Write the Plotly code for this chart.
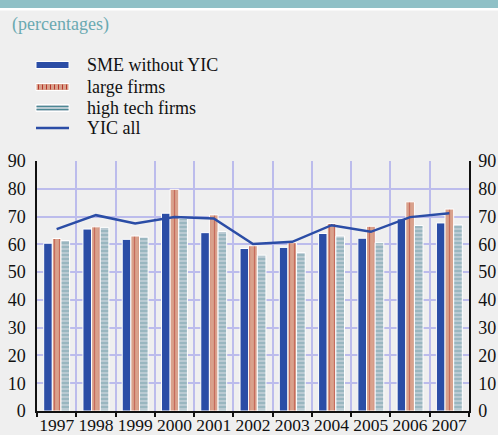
import plotly.graph_objects as go

# Data
years = ["1997", "1998", "1999", "2000", "2001", "2002", "2003", "2004", "2005", "2006", "2007"]
sme_without_yic = [60.4, 65.5, 61.8, 71.2, 64.2, 58.5, 58.9, 63.9, 62.2, 69.2, 67.7]
large_firms = [62.1, 66.3, 63.0, 79.8, 70.6, 59.5, 60.6, 67.5, 66.5, 75.3, 72.7]
high_tech_firms = [61.4, 66.1, 62.6, 69.3, 64.6, 56.1, 57.0, 63.0, 60.6, 66.8, 67.0]
yic_all = [65.5, 70.5, 67.5, 69.8, 69.3, 60.1, 60.9, 66.9, 64.5, 69.8, 71.2]
y_ticks = [0, 10, 20, 30, 40, 50, 60, 70, 80, 90]

# Colours
BLUE = "#2b4da6"
SALMON = "#d9a18c"
DARK_RED = "#b5362b"
HT_BG = "#b9cad2"
HT_LINE = "#4d8894"
GRID = "#bcbcec"
BG = "#efefef"
TEAL_BAND = "#8fc0c6"
TEAL_TEXT = "#6aa9b1"
FONT = "Liberation Serif"

# Layout geometry (pixels)
FIG_W, FIG_H = 498, 435
M_L, M_R, M_T, M_B = 37, 29, 161, 24
PW = FIG_W - M_L - M_R
PH = FIG_H - M_T - M_B


def px_x(x):
    return (x - M_L) / PW


def px_y(y):
    return (FIG_H - M_B - y) / PH


fig = go.Figure()

fig.add_trace(go.Bar(
    x=years, y=sme_without_yic, name="SME without YIC",
    marker=dict(color=BLUE, line=dict(color="white", width=1)),
    showlegend=False,
))
fig.add_trace(go.Bar(
    x=years, y=large_firms, name="large firms",
    marker=dict(color=SALMON, line=dict(color="white", width=1),
                pattern=dict(shape="|", fgcolor=DARK_RED, fillmode="overlay",
                             size=5, solidity=0.25)),
    showlegend=False,
))
fig.add_trace(go.Bar(
    x=years, y=high_tech_firms, name="high tech firms",
    marker=dict(color=HT_BG, line=dict(color="white", width=1),
                pattern=dict(shape="-", fgcolor=HT_LINE, fillmode="overlay",
                             size=4, solidity=0.3)),
    showlegend=False,
))
fig.add_trace(go.Scatter(
    x=years, y=yic_all, name="YIC all", mode="lines",
    line=dict(color=BLUE, width=2.5), yaxis="y2",
    showlegend=False,
))

shapes = []
annotations = []

# Header band
shapes.append(dict(type="rect", xref="paper", yref="paper",
                   x0=px_x(0), x1=px_x(FIG_W), y0=px_y(0), y1=px_y(8),
                   fillcolor=TEAL_BAND, line=dict(width=0), layer="below"))
shapes.append(dict(type="rect", xref="paper", yref="paper",
                   x0=px_x(0), x1=px_x(FIG_W), y0=px_y(8), y1=px_y(10.5),
                   fillcolor="white", line=dict(width=0), layer="below"))

annotations.append(dict(text="(percentages)", xref="paper", yref="paper",
                        x=px_x(10), y=px_y(24), xanchor="left", yanchor="middle",
                        showarrow=False, font=dict(family=FONT, size=18, color=TEAL_TEXT)))

# Legend
SW_X0, SW_X1 = 36, 69
TXT_X = 85
rows = [65, 87, 108, 128]
labels = ["SME without YIC", "large firms", "high tech firms", "YIC all"]

# SME swatch
shapes.append(dict(type="rect", xref="paper", yref="paper",
                   x0=px_x(SW_X0), x1=px_x(SW_X1), y0=px_y(rows[0] - 3.5), y1=px_y(rows[0] + 3.5),
                   fillcolor=BLUE, line=dict(color="white", width=1)))
# large firms swatch with vertical stripes
shapes.append(dict(type="rect", xref="paper", yref="paper",
                   x0=px_x(SW_X0), x1=px_x(SW_X1), y0=px_y(rows[1] - 3.5), y1=px_y(rows[1] + 3.5),
                   fillcolor=SALMON, line=dict(color="white", width=1)))
xs = SW_X0 + 2.5
while xs < SW_X1 - 1:
    shapes.append(dict(type="line", xref="paper", yref="paper",
                       x0=px_x(xs), x1=px_x(xs), y0=px_y(rows[1] - 2.5), y1=px_y(rows[1] + 2.5),
                       line=dict(color=DARK_RED, width=1)))
    xs += 4
# high tech swatch with horizontal stripes
shapes.append(dict(type="rect", xref="paper", yref="paper",
                   x0=px_x(SW_X0), x1=px_x(SW_X1), y0=px_y(rows[2] - 3.5), y1=px_y(rows[2] + 3.5),
                   fillcolor=HT_BG, line=dict(color="white", width=1)))
for dy in (-1.5, 1.5):
    shapes.append(dict(type="line", xref="paper", yref="paper",
                       x0=px_x(SW_X0 + 0.5), x1=px_x(SW_X1 - 0.5),
                       y0=px_y(rows[2] + dy), y1=px_y(rows[2] + dy),
                       line=dict(color=HT_LINE, width=1)))
# YIC line swatch
shapes.append(dict(type="line", xref="paper", yref="paper",
                   x0=px_x(SW_X0), x1=px_x(SW_X1), y0=px_y(rows[3]), y1=px_y(rows[3]),
                   line=dict(color=BLUE, width=2.5)))

for lab, ry in zip(labels, rows):
    annotations.append(dict(text=lab, xref="paper", yref="paper",
                            x=px_x(TXT_X), y=px_y(ry), xanchor="left", yanchor="middle",
                            showarrow=False, font=dict(family=FONT, size=18, color="#111111")))

axis_font = dict(family=FONT, size=18, color="#111111")
x_font = dict(family=FONT, size=17.5, color="#111111")

fig.update_layout(
    width=FIG_W, height=FIG_H,
    margin=dict(l=M_L, r=M_R, t=M_T, b=M_B, pad=0, autoexpand=False),
    paper_bgcolor=BG, plot_bgcolor=BG,
    barmode="group", bargap=0.34, bargroupgap=0.0,
    shapes=shapes, annotations=annotations,
    xaxis=dict(type="category", categoryorder="array", categoryarray=years,
               range=[-0.5, len(years) - 0.5], tickangle=0, automargin=False,
               tickson="boundaries", ticks="outside", ticklen=4, tickwidth=1.5,
               tickcolor="#111111", showline=True, linecolor="#111111", linewidth=1.5,
               showgrid=True, gridcolor=GRID, gridwidth=1.5,
               tickfont=x_font, ticklabelstandoff=-3, fixedrange=True),
    yaxis=dict(range=[0, 90], tickvals=y_ticks, showgrid=True, gridcolor=GRID, gridwidth=1.5,
               showline=True, linecolor="#111111", linewidth=1.5, zeroline=False,
               automargin=False, ticks="", tickfont=axis_font, ticklabelstandoff=6),
    yaxis2=dict(range=[0, 90], tickvals=y_ticks, overlaying="y", side="right",
                showgrid=False, showline=True, linecolor="#111111", linewidth=1.5,
                zeroline=False, automargin=False, ticks="", tickfont=axis_font,
                ticklabelstandoff=4),
    font=dict(family=FONT),
)

fig.write_html("out.html")
